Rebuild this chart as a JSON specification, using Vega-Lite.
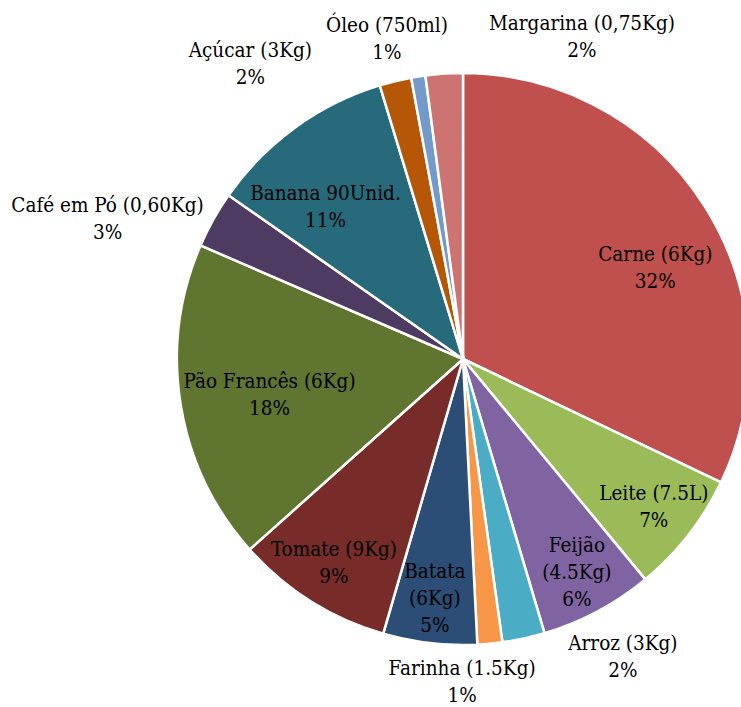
{
  "$schema": "https://vega.github.io/schema/vega-lite/v6.json",
  "width": 556,
  "height": 696,
  "autosize": {"type": "none"},
  "padding": {"left": 185, "top": 11, "right": 0, "bottom": 0},
  "background": "white",
  "config": {
    "view": {"stroke": null},
    "text": {"font": "DejaVu Serif Condensed, DejaVu Serif", "fontSize": 20.5, "lineHeight": 27, "color": "black"}
  },
  "data": {
    "values": [
      {"idx": 1, "item": "Carne", "pct": 32.1, "label": ["Carne (6Kg)", "32%"]},
      {"idx": 2, "item": "Leite", "pct": 6.9, "label": ["Leite (7.5L)", "7%"]},
      {"idx": 3, "item": "Feijão", "pct": 6.4, "label": ["Feijão", "(4.5Kg)", "6%"]},
      {"idx": 4, "item": "Arroz", "pct": 2.4, "label": ["Arroz (3Kg)", "2%"]},
      {"idx": 5, "item": "Farinha", "pct": 1.4, "label": ["Farinha (1.5Kg)", "1%"]},
      {"idx": 6, "item": "Batata", "pct": 5.3, "label": ["Batata", "(6Kg)", "5%"]},
      {"idx": 7, "item": "Tomate", "pct": 8.9, "label": ["Tomate (9Kg)", "9%"]},
      {"idx": 8, "item": "Pão Francês", "pct": 18.1, "label": ["Pão Francês (6Kg)", "18%"]},
      {"idx": 9, "item": "Café em Pó", "pct": 3.2, "label": ["Café em Pó (0,60Kg)", "3%"]},
      {"idx": 10, "item": "Banana", "pct": 10.6, "label": ["Banana 90Unid.", "11%"]},
      {"idx": 11, "item": "Açúcar", "pct": 1.8, "label": ["Açúcar (3Kg)", "2%"]},
      {"idx": 12, "item": "Óleo", "pct": 0.8, "label": ["Óleo (750ml)", "1%"]},
      {"idx": 13, "item": "Margarina", "pct": 2.1, "label": ["Margarina (0,75Kg)", "2%"]}
    ]
  },
  "encoding": {
    "theta": {"field": "pct", "type": "quantitative", "stack": true},
    "order": {"field": "idx", "type": "quantitative"}
  },
  "layer": [
    {
      "mark": {"type": "arc", "radius": 286, "stroke": "white", "strokeWidth": 2.5},
      "encoding": {
        "color": {
          "field": "item",
          "type": "nominal",
          "scale": {
            "domain": ["Carne", "Leite", "Feijão", "Arroz", "Farinha", "Batata", "Tomate", "Pão Francês", "Café em Pó", "Banana", "Açúcar", "Óleo", "Margarina"],
            "range": ["#C0504D", "#9BBB59", "#8064A2", "#4BACC6", "#F79646", "#2C4D75", "#772C2A", "#5F7530", "#4D3B62", "#276A7C", "#B65708", "#729ACA", "#CD7371"]
          },
          "legend": null
        }
      }
    },
    {
      "mark": {"type": "text", "radius": 212, "dx": 13, "dy": 9.5},
      "encoding": {
        "detail": {"field": "item"},
        "text": {"condition": {"test": "datum.item === 'Carne'", "field": "label", "type": "nominal"}, "value": ""}
      }
    },
    {
      "mark": {"type": "text", "radius": 242, "dy": -13.5},
      "encoding": {
        "detail": {"field": "item"},
        "text": {"condition": {"test": "indexof(['Leite','Tomate'], datum.item) >= 0", "field": "label", "type": "nominal"}, "value": ""}
      }
    },
    {
      "mark": {"type": "text", "radius": 242, "dy": -27},
      "encoding": {
        "detail": {"field": "item"},
        "text": {"condition": {"test": "indexof(['Feijão','Batata'], datum.item) >= 0", "field": "label", "type": "nominal"}, "value": ""}
      }
    },
    {
      "mark": {"type": "text", "radius": 196, "dy": -8.5},
      "encoding": {
        "detail": {"field": "item"},
        "text": {"condition": {"test": "datum.item === 'Pão Francês'", "field": "label", "type": "nominal"}, "value": ""}
      }
    },
    {
      "mark": {"type": "text", "radius": 200, "dx": -20, "dy": -3.5},
      "encoding": {
        "detail": {"field": "item"},
        "text": {"condition": {"test": "datum.item === 'Banana'", "field": "label", "type": "nominal"}, "value": ""}
      }
    },
    {
      "mark": {"type": "text", "radius": 320, "dx": -76, "dy": 2.5},
      "encoding": {
        "detail": {"field": "item"},
        "text": {"condition": {"test": "datum.item === 'Café em Pó'", "field": "label", "type": "nominal"}, "value": ""}
      }
    },
    {
      "mark": {"type": "text", "radius": 320, "dx": -137, "dy": 2.5},
      "encoding": {
        "detail": {"field": "item"},
        "text": {"condition": {"test": "datum.item === 'Açúcar'", "field": "label", "type": "nominal"}, "value": ""}
      }
    },
    {
      "mark": {"type": "text", "radius": 320, "dx": -26, "dy": -16.5},
      "encoding": {
        "detail": {"field": "item"},
        "text": {"condition": {"test": "datum.item === 'Óleo'", "field": "label", "type": "nominal"}, "value": ""}
      }
    },
    {
      "mark": {"type": "text", "radius": 320, "dx": 140, "dy": -15.5},
      "encoding": {
        "detail": {"field": "item"},
        "text": {"condition": {"test": "datum.item === 'Margarina'", "field": "label", "type": "nominal"}, "value": ""}
      }
    },
    {
      "mark": {"type": "text", "radius": 320, "dx": 92, "dy": -27.5},
      "encoding": {
        "detail": {"field": "item"},
        "text": {"condition": {"test": "datum.item === 'Arroz'", "field": "label", "type": "nominal"}, "value": ""}
      }
    },
    {
      "mark": {"type": "text", "radius": 320, "dx": -31, "dy": -9},
      "encoding": {
        "detail": {"field": "item"},
        "text": {"condition": {"test": "datum.item === 'Farinha'", "field": "label", "type": "nominal"}, "value": ""}
      }
    }
  ]
}
